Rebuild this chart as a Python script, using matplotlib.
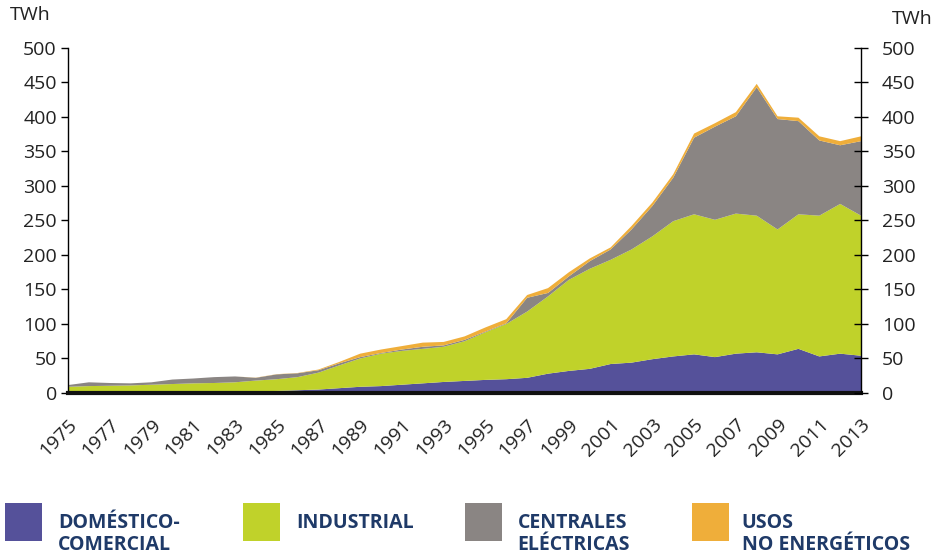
import matplotlib
matplotlib.use("Agg")
import matplotlib.pyplot as plt
from matplotlib.patches import Rectangle

years = list(range(1975, 2014))

# TWh per sector (stacked)
domestico = [0.5, 0.7, 0.8, 1.0, 1.2, 1.4, 1.6, 1.8, 2.0, 2.3,
             3.0, 4.0, 5.0, 7.0, 9.0, 10.0, 12.0, 14.0, 16.0, 17.5,
             19.0, 20.0, 22.0, 28.0, 32.0, 35.0, 42.0, 44.0, 49.0, 53.0,
             56.0, 52.0, 57.0, 59.0, 56.0, 64.0, 53.0, 57.0, 54.0]
industrial = [8.5, 9.3, 9.7, 10.0, 10.8, 11.6, 12.4, 12.7, 13.5, 15.7,
              17.0, 19.0, 24.5, 33.0, 41.0, 47.0, 49.0, 50.0, 51.0, 57.5,
              69.0, 80.0, 96.0, 112.0, 132.0, 145.0, 151.0, 164.0, 178.0, 196.0,
              203.0, 199.0, 203.0, 198.0, 181.0, 195.0, 204.0, 217.0, 203.0]
centrales = [2.5, 5.5, 4.0, 3.0, 3.5, 6.5, 7.0, 8.5, 8.5, 4.0,
             7.0, 5.6, 3.5, 3.0, 2.0, 1.0, 2.0, 3.0, 2.0, 2.0,
             1.0, 1.0, 20.0, 5.0, 5.0, 11.0, 15.0, 29.0, 44.0, 63.0,
             111.0, 135.0, 141.0, 186.0, 160.0, 135.0, 109.0, 85.0, 108.0]
usos = [0.0, 0.0, 0.0, 0.0, 0.0, 0.0, 0.0, 0.0, 0.0, 0.3,
        0.3, 0.4, 1.0, 2.0, 5.0, 5.0, 5.0, 6.0, 5.0, 5.0,
        6.0, 6.0, 4.0, 7.0, 6.0, 4.0, 3.0, 5.0, 5.0, 5.0,
        6.0, 5.0, 6.0, 5.0, 4.0, 5.0, 6.0, 6.0, 7.0]

labels = ["DOMÉSTICO-\nCOMERCIAL", "INDUSTRIAL", "CENTRALES\nELÉCTRICAS", "USOS\nNO ENERGÉTICOS"]
colors = ["#55519a", "#c0d22a", "#8a8583", "#efae3a"]
yticks = [0, 50, 100, 150, 200, 250, 300, 350, 400, 450, 500]
xticks = list(range(1975, 2014, 2))

plt.rcParams["font.family"] = ["Open Sans", "DejaVu Sans"]
text_col = "#222222"
navy = "#1f3a68"

fig = plt.figure(figsize=(9.39, 5.58), dpi=100)
ax = fig.add_axes([0.0724, 0.2957, 0.8446, 0.6183])

ax.stackplot(years, domestico, industrial, centrales, usos, colors=colors, linewidth=0)
ax.set_xlim(1975, 2013)
ax.set_ylim(0, 500)
ax.set_yticks(yticks)
ax.set_xticks(xticks)
ax.set_xticklabels([str(y) for y in xticks], rotation=45, ha="right",
                   rotation_mode="anchor", fontsize=14, color=text_col)
ax.tick_params(axis="x", length=0, pad=16)
ax.tick_params(axis="y", direction="out", length=5, width=1, labelsize=14,
               labelcolor=text_col, pad=3)

ax.spines[["top", "right"]].set_visible(False)
ax.spines["left"].set_linewidth(1)
ax.spines["bottom"].set_linewidth(3)
ax.spines["bottom"].set_color("#111111")
ax.spines["bottom"].set_zorder(5)

ax2 = ax.twinx()
ax2.set_ylim(0, 500)
ax2.set_yticks(yticks)
ax2.tick_params(axis="y", direction="inout", length=10, width=1, labelsize=14,
                labelcolor=text_col, pad=10)
ax2.spines[["top", "left", "bottom"]].set_visible(False)
ax2.spines["right"].set_linewidth(1)

fig.text(0.011, 0.99, "TWh", fontsize=14, color=text_col, va="top", ha="left")
fig.text(0.993, 0.982, "TWh", fontsize=14, color=text_col, va="top", ha="right")

# legend at the bottom
sq_x = [0.0053, 0.259, 0.495, 0.737]
txt_x = [0.0618, 0.316, 0.551, 0.790]
for sx, tx, lab, col in zip(sq_x, txt_x, labels, colors):
    fig.add_artist(Rectangle((sx, 0.0305), 0.0394, 0.068, transform=fig.transFigure,
                             facecolor=col, edgecolor="none"))
    fig.text(tx, 0.080, lab, fontsize=14, fontweight="bold", color=navy,
             va="top", ha="left", linespacing=1.12)

fig.savefig("out.png", dpi=100)
plt.close(fig)
